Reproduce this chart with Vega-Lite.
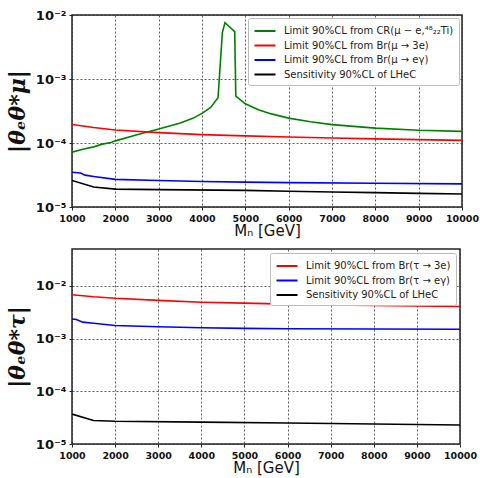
{
  "$schema": "https://vega.github.io/schema/vega-lite/v6.json",
  "padding": {"top": 8, "left": 5, "right": 18, "bottom": 5},
  "spacing": 8,
  "background": "white",
  "datasets": {
    "mu": [
      {"series": "Limit 90%CL from CR(μ − e,⁴⁸₂₂Ti)", "M": 1000, "v": 7.2e-5},
      {"series": "Limit 90%CL from CR(μ − e,⁴⁸₂₂Ti)", "M": 1250, "v": 8.0e-5},
      {"series": "Limit 90%CL from CR(μ − e,⁴⁸₂₂Ti)", "M": 1500, "v": 8.7e-5},
      {"series": "Limit 90%CL from CR(μ − e,⁴⁸₂₂Ti)", "M": 1700, "v": 9.6e-5},
      {"series": "Limit 90%CL from CR(μ − e,⁴⁸₂₂Ti)", "M": 1900, "v": 1.02e-4},
      {"series": "Limit 90%CL from CR(μ − e,⁴⁸₂₂Ti)", "M": 2000, "v": 1.08e-4},
      {"series": "Limit 90%CL from CR(μ − e,⁴⁸₂₂Ti)", "M": 2500, "v": 1.35e-4},
      {"series": "Limit 90%CL from CR(μ − e,⁴⁸₂₂Ti)", "M": 3000, "v": 1.65e-4},
      {"series": "Limit 90%CL from CR(μ − e,⁴⁸₂₂Ti)", "M": 3500, "v": 2.05e-4},
      {"series": "Limit 90%CL from CR(μ − e,⁴⁸₂₂Ti)", "M": 3800, "v": 2.45e-4},
      {"series": "Limit 90%CL from CR(μ − e,⁴⁸₂₂Ti)", "M": 4000, "v": 2.9e-4},
      {"series": "Limit 90%CL from CR(μ − e,⁴⁸₂₂Ti)", "M": 4200, "v": 3.6e-4},
      {"series": "Limit 90%CL from CR(μ − e,⁴⁸₂₂Ti)", "M": 4370, "v": 5.1e-4},
      {"series": "Limit 90%CL from CR(μ − e,⁴⁸₂₂Ti)", "M": 4470, "v": 5.3e-3},
      {"series": "Limit 90%CL from CR(μ − e,⁴⁸₂₂Ti)", "M": 4530, "v": 7.6e-3},
      {"series": "Limit 90%CL from CR(μ − e,⁴⁸₂₂Ti)", "M": 4755, "v": 5.5e-3},
      {"series": "Limit 90%CL from CR(μ − e,⁴⁸₂₂Ti)", "M": 4780, "v": 5.4e-4},
      {"series": "Limit 90%CL from CR(μ − e,⁴⁸₂₂Ti)", "M": 5000, "v": 4.1e-4},
      {"series": "Limit 90%CL from CR(μ − e,⁴⁸₂₂Ti)", "M": 5300, "v": 3.3e-4},
      {"series": "Limit 90%CL from CR(μ − e,⁴⁸₂₂Ti)", "M": 5600, "v": 2.85e-4},
      {"series": "Limit 90%CL from CR(μ − e,⁴⁸₂₂Ti)", "M": 6000, "v": 2.45e-4},
      {"series": "Limit 90%CL from CR(μ − e,⁴⁸₂₂Ti)", "M": 6500, "v": 2.15e-4},
      {"series": "Limit 90%CL from CR(μ − e,⁴⁸₂₂Ti)", "M": 7000, "v": 1.94e-4},
      {"series": "Limit 90%CL from CR(μ − e,⁴⁸₂₂Ti)", "M": 8000, "v": 1.71e-4},
      {"series": "Limit 90%CL from CR(μ − e,⁴⁸₂₂Ti)", "M": 9000, "v": 1.58e-4},
      {"series": "Limit 90%CL from CR(μ − e,⁴⁸₂₂Ti)", "M": 10000, "v": 1.52e-4},
      {"series": "Limit 90%CL from Br(μ → 3e)", "M": 1000, "v": 1.95e-4},
      {"series": "Limit 90%CL from Br(μ → 3e)", "M": 1500, "v": 1.75e-4},
      {"series": "Limit 90%CL from Br(μ → 3e)", "M": 2000, "v": 1.6e-4},
      {"series": "Limit 90%CL from Br(μ → 3e)", "M": 3000, "v": 1.45e-4},
      {"series": "Limit 90%CL from Br(μ → 3e)", "M": 4000, "v": 1.35e-4},
      {"series": "Limit 90%CL from Br(μ → 3e)", "M": 5000, "v": 1.29e-4},
      {"series": "Limit 90%CL from Br(μ → 3e)", "M": 6000, "v": 1.24e-4},
      {"series": "Limit 90%CL from Br(μ → 3e)", "M": 7000, "v": 1.2e-4},
      {"series": "Limit 90%CL from Br(μ → 3e)", "M": 8000, "v": 1.16e-4},
      {"series": "Limit 90%CL from Br(μ → 3e)", "M": 9000, "v": 1.13e-4},
      {"series": "Limit 90%CL from Br(μ → 3e)", "M": 10000, "v": 1.1e-4},
      {"series": "Limit 90%CL from Br(μ → eγ)", "M": 1000, "v": 3.5e-5},
      {"series": "Limit 90%CL from Br(μ → eγ)", "M": 1200, "v": 3.4e-5},
      {"series": "Limit 90%CL from Br(μ → eγ)", "M": 1300, "v": 3.15e-5},
      {"series": "Limit 90%CL from Br(μ → eγ)", "M": 1500, "v": 3.0e-5},
      {"series": "Limit 90%CL from Br(μ → eγ)", "M": 2000, "v": 2.7e-5},
      {"series": "Limit 90%CL from Br(μ → eγ)", "M": 3000, "v": 2.6e-5},
      {"series": "Limit 90%CL from Br(μ → eγ)", "M": 4000, "v": 2.5e-5},
      {"series": "Limit 90%CL from Br(μ → eγ)", "M": 5000, "v": 2.45e-5},
      {"series": "Limit 90%CL from Br(μ → eγ)", "M": 6000, "v": 2.4e-5},
      {"series": "Limit 90%CL from Br(μ → eγ)", "M": 8000, "v": 2.35e-5},
      {"series": "Limit 90%CL from Br(μ → eγ)", "M": 10000, "v": 2.3e-5},
      {"series": "Sensitivity 90%CL of LHeC", "M": 1000, "v": 2.6e-5},
      {"series": "Sensitivity 90%CL of LHeC", "M": 1500, "v": 2.05e-5},
      {"series": "Sensitivity 90%CL of LHeC", "M": 2000, "v": 1.9e-5},
      {"series": "Sensitivity 90%CL of LHeC", "M": 3000, "v": 1.87e-5},
      {"series": "Sensitivity 90%CL of LHeC", "M": 5000, "v": 1.82e-5},
      {"series": "Sensitivity 90%CL of LHeC", "M": 6000, "v": 1.76e-5},
      {"series": "Sensitivity 90%CL of LHeC", "M": 7000, "v": 1.72e-5},
      {"series": "Sensitivity 90%CL of LHeC", "M": 8000, "v": 1.68e-5},
      {"series": "Sensitivity 90%CL of LHeC", "M": 9000, "v": 1.63e-5},
      {"series": "Sensitivity 90%CL of LHeC", "M": 10000, "v": 1.6e-5}
    ],
    "tau": [
      {"series": "Limit 90%CL from Br(τ → 3e)", "M": 1000, "v": 6.8e-3},
      {"series": "Limit 90%CL from Br(τ → 3e)", "M": 1500, "v": 6.2e-3},
      {"series": "Limit 90%CL from Br(τ → 3e)", "M": 2000, "v": 5.8e-3},
      {"series": "Limit 90%CL from Br(τ → 3e)", "M": 3000, "v": 5.3e-3},
      {"series": "Limit 90%CL from Br(τ → 3e)", "M": 4000, "v": 4.9e-3},
      {"series": "Limit 90%CL from Br(τ → 3e)", "M": 5000, "v": 4.7e-3},
      {"series": "Limit 90%CL from Br(τ → 3e)", "M": 6000, "v": 4.5e-3},
      {"series": "Limit 90%CL from Br(τ → 3e)", "M": 7000, "v": 4.35e-3},
      {"series": "Limit 90%CL from Br(τ → 3e)", "M": 8000, "v": 4.25e-3},
      {"series": "Limit 90%CL from Br(τ → 3e)", "M": 9000, "v": 4.15e-3},
      {"series": "Limit 90%CL from Br(τ → 3e)", "M": 10000, "v": 4.05e-3},
      {"series": "Limit 90%CL from Br(τ → eγ)", "M": 1000, "v": 2.35e-3},
      {"series": "Limit 90%CL from Br(τ → eγ)", "M": 1100, "v": 2.3e-3},
      {"series": "Limit 90%CL from Br(τ → eγ)", "M": 1250, "v": 2.05e-3},
      {"series": "Limit 90%CL from Br(τ → eγ)", "M": 1500, "v": 1.95e-3},
      {"series": "Limit 90%CL from Br(τ → eγ)", "M": 2000, "v": 1.77e-3},
      {"series": "Limit 90%CL from Br(τ → eγ)", "M": 3000, "v": 1.67e-3},
      {"series": "Limit 90%CL from Br(τ → eγ)", "M": 4000, "v": 1.6e-3},
      {"series": "Limit 90%CL from Br(τ → eγ)", "M": 5000, "v": 1.56e-3},
      {"series": "Limit 90%CL from Br(τ → eγ)", "M": 6000, "v": 1.54e-3},
      {"series": "Limit 90%CL from Br(τ → eγ)", "M": 8000, "v": 1.52e-3},
      {"series": "Limit 90%CL from Br(τ → eγ)", "M": 10000, "v": 1.5e-3},
      {"series": "Sensitivity 90%CL of LHeC", "M": 1000, "v": 3.7e-5},
      {"series": "Sensitivity 90%CL of LHeC", "M": 1500, "v": 2.8e-5},
      {"series": "Sensitivity 90%CL of LHeC", "M": 2000, "v": 2.7e-5},
      {"series": "Sensitivity 90%CL of LHeC", "M": 4000, "v": 2.6e-5},
      {"series": "Sensitivity 90%CL of LHeC", "M": 6000, "v": 2.5e-5},
      {"series": "Sensitivity 90%CL of LHeC", "M": 8000, "v": 2.4e-5},
      {"series": "Sensitivity 90%CL of LHeC", "M": 10000, "v": 2.3e-5}
    ]
  },
  "resolve": {"scale": {"color": "independent", "x": "independent", "y": "independent"}, "legend": {"color": "independent"}},
  "vconcat": [
    {
      "width": 390,
      "height": 192,
      "data": {"name": "mu"},
      "mark": {"type": "line", "strokeWidth": 1.6, "clip": true},
      "encoding": {
        "x": {"field": "M", "type": "quantitative", "scale": {"domain": [1000, 10000], "nice": false},
          "axis": {"values": [1000, 2000, 3000, 4000, 5000, 6000, 7000, 8000, 9000, 10000], "format": "d", "title": "Mₙ [GeV]"}},
        "y": {"field": "v", "type": "quantitative", "scale": {"type": "log", "domain": [1e-5, 1e-2], "nice": false},
          "axis": {"values": [1e-5, 1e-4, 1e-3, 1e-2], "title": "|θₑθ*μ|",
            "labelExpr": "datum.value > 0.005 ? '10⁻²' : datum.value > 0.0005 ? '10⁻³' : datum.value > 0.00005 ? '10⁻⁴' : '10⁻⁵'"}},
        "color": {"field": "series", "type": "nominal", "sort": null,
          "scale": {"domain": ["Limit 90%CL from CR(μ − e,⁴⁸₂₂Ti)", "Limit 90%CL from Br(μ → 3e)", "Limit 90%CL from Br(μ → eγ)", "Sensitivity 90%CL of LHeC"],
            "range": ["#008000", "#ff0000", "#0000ff", "#000000"]},
          "legend": {"title": null, "orient": "top-right", "offset": 3}}
      }
    },
    {
      "width": 388,
      "height": 195,
      "data": {"name": "tau"},
      "mark": {"type": "line", "strokeWidth": 1.6, "clip": true},
      "encoding": {
        "x": {"field": "M", "type": "quantitative", "scale": {"domain": [1000, 10000], "nice": false},
          "axis": {"values": [1000, 2000, 3000, 4000, 5000, 6000, 7000, 8000, 9000, 10000], "format": "d", "title": "Mₙ [GeV]"}},
        "y": {"field": "v", "type": "quantitative", "scale": {"type": "log", "domain": [1e-5, 0.05], "nice": false},
          "axis": {"values": [1e-5, 1e-4, 1e-3, 1e-2], "title": "|θₑθ*τ|",
            "labelExpr": "datum.value > 0.005 ? '10⁻²' : datum.value > 0.0005 ? '10⁻³' : datum.value > 0.00005 ? '10⁻⁴' : '10⁻⁵'"}},
        "color": {"field": "series", "type": "nominal", "sort": null,
          "scale": {"domain": ["Limit 90%CL from Br(τ → 3e)", "Limit 90%CL from Br(τ → eγ)", "Sensitivity 90%CL of LHeC"],
            "range": ["#ff0000", "#0000ff", "#000000"]},
          "legend": {"title": null, "orient": "top-right", "offset": 4}}
      }
    }
  ],
  "config": {
    "font": "DejaVu Sans",
    "view": {"stroke": "#222222", "strokeWidth": 1.5},
    "axis": {
      "grid": true, "gridColor": "#333333", "gridDash": [2, 2], "gridWidth": 0.8, "gridOpacity": 1,
      "domain": false, "tickColor": "#222", "tickSize": 3, "ticks": true,
      "labelFont": "DejaVu Sans", "labelFontWeight": "bold", "labelFontSize": 9.5, "labelColor": "#111",
      "titleFont": "DejaVu Sans", "titleColor": "#111"
    },
    "axisX": {"titleFontSize": 15, "titleFontWeight": "normal", "titlePadding": 1, "labelPadding": 3, "labelFlush": false},
    "axisY": {"titleFontSize": 22, "titleFont": "DejaVu Serif", "titleFontStyle": "italic", "titleFontWeight": "bold", "titlePadding": 6, "labelFontSize": 13, "labelPadding": 3},
    "legend": {
      "fillColor": "white", "strokeColor": "#bbbbbb", "padding": 5, "cornerRadius": 2,
      "symbolType": "M-1.5,0H1.5", "symbolSize": 196, "symbolStrokeWidth": 2, "symbolOffset": 4, "labelOffset": 11,
      "labelFont": "DejaVu Sans", "labelFontSize": 10, "labelColor": "#222", "labelLimit": 260, "rowPadding": 1.5
    }
  }
}
